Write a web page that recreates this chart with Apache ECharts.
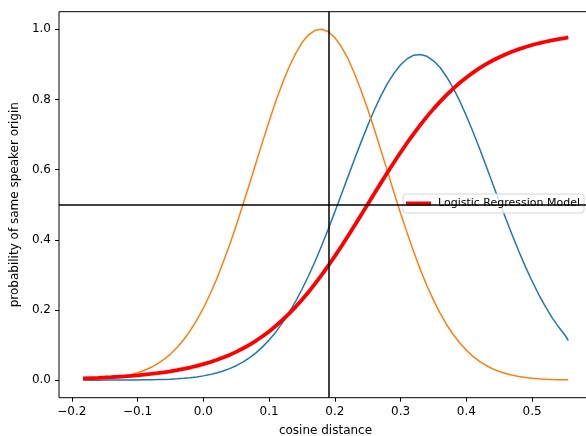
<!DOCTYPE html>
<html>
<head>
<meta charset="utf-8">
<script src="https://cdn.jsdelivr.net/npm/echarts@6/dist/echarts.min.js"></script>
<style>
  html, body { margin: 0; padding: 0; background: #fff; }
  #chart { width: 586px; height: 436px; }
</style>
</head>
<body>
<div id="chart"></div>
<script>
// cosine distance samples
var xs = [-0.183, -0.17, -0.16, -0.15, -0.14, -0.13, -0.12, -0.11, -0.10, -0.09,
          -0.08, -0.07, -0.06, -0.05, -0.04, -0.03, -0.02, -0.01, 0.00, 0.01,
          0.02, 0.03, 0.04, 0.05, 0.06, 0.07, 0.08, 0.09, 0.10, 0.11,
          0.12, 0.13, 0.14, 0.15, 0.16, 0.17, 0.18, 0.19, 0.20, 0.21,
          0.22, 0.23, 0.24, 0.25, 0.26, 0.27, 0.28, 0.29, 0.30, 0.31,
          0.32, 0.33, 0.34, 0.35, 0.36, 0.37, 0.38, 0.39, 0.40, 0.41,
          0.42, 0.43, 0.44, 0.45, 0.46, 0.47, 0.48, 0.49, 0.50, 0.51,
          0.52, 0.53, 0.54, 0.55, 0.555];
// blue curve
var blueVals = [0.00003, 0.00004, 0.00006, 0.00009, 0.00014, 0.00020, 0.00029, 0.00041, 0.00058, 0.00082,
                0.00114, 0.00157, 0.00216, 0.00293, 0.00396, 0.00531, 0.00705, 0.0093, 0.0122, 0.0158,
                0.0203, 0.0259, 0.0328, 0.0412, 0.0514, 0.0635, 0.0779, 0.0948, 0.1143, 0.1368,
                0.1624, 0.191, 0.2235, 0.259, 0.2976, 0.339, 0.3839, 0.431, 0.4796, 0.530,
                0.580, 0.630, 0.679, 0.726, 0.770, 0.810, 0.846, 0.875, 0.899, 0.916,
                0.926, 0.928, 0.923, 0.910, 0.891, 0.864, 0.832, 0.795, 0.753, 0.708,
                0.660, 0.610, 0.560, 0.509, 0.460, 0.412, 0.366, 0.322, 0.282, 0.244,
                0.210, 0.179, 0.152, 0.128, 0.113];
// orange curve
var orangeVals = [0.0015, 0.0023, 0.0033, 0.0046, 0.0064, 0.0087, 0.0118, 0.0158, 0.0210, 0.0276,
                  0.0359, 0.0462, 0.0589, 0.0743, 0.0929, 0.115, 0.141, 0.171, 0.205, 0.244,
                  0.287, 0.335, 0.386, 0.441, 0.499, 0.558, 0.619, 0.679, 0.738, 0.794,
                  0.845, 0.891, 0.930, 0.962, 0.984, 0.997, 1.000, 0.993, 0.976, 0.950,
                  0.916, 0.873, 0.825, 0.772, 0.715, 0.655, 0.595, 0.534, 0.475, 0.419,
                  0.365, 0.315, 0.269, 0.228, 0.191, 0.158, 0.130, 0.106, 0.0851, 0.0678,
                  0.0535, 0.0418, 0.0323, 0.0247, 0.0188, 0.0141, 0.0105, 0.0077, 0.0056, 0.0040,
                  0.0029, 0.0020, 0.0014, 0.0010, 0.0008];
// Logistic Regression Model
var logisticVals = [0.0051, 0.0060, 0.0067, 0.0076, 0.0086, 0.0097, 0.0109, 0.0123, 0.0139, 0.0156,
                    0.0176, 0.0199, 0.0224, 0.0252, 0.0284, 0.0320, 0.0360, 0.0405, 0.0455, 0.0511,
                    0.0573, 0.0643, 0.0720, 0.0806, 0.0902, 0.1007, 0.1122, 0.1250, 0.1389, 0.1542,
                    0.1708, 0.1888, 0.2082, 0.2290, 0.2513, 0.2749, 0.2999, 0.3261, 0.3535, 0.3818,
                    0.4110, 0.4408, 0.4710, 0.5015, 0.5320, 0.5622, 0.5920, 0.6211, 0.6493, 0.6766,
                    0.7027, 0.7275, 0.7510, 0.7731, 0.7938, 0.8131, 0.8309, 0.8474, 0.8625, 0.8763,
                    0.8890, 0.9004, 0.9109, 0.9203, 0.9288, 0.9364, 0.9433, 0.9495, 0.9550, 0.9600,
                    0.9644, 0.9683, 0.9719, 0.9750, 0.9765];
var xTicks = [-0.2, -0.1, 0.0, 0.1, 0.2, 0.3, 0.4, 0.5];
var yTicks = [0.0, 0.2, 0.4, 0.6, 0.8, 1.0];
var vLineX = [0.186];
var hLineY = [0.5];

function pairs(vals) {
    return xs.map(function (x, i) { return [x, vals[i]]; });
}
function fmt(v) {
    return (v < 0 ? '\u2212' : '') + Math.abs(v).toFixed(1);
}

var chart = echarts.init(document.getElementById('chart'));
var font = 'DejaVu Sans';
var option = {
    animation: false,
    grid: {
        left: 59, top: 11.7, width: 533, height: 386,
        outerBoundsMode: 'none', containLabel: false,
        show: true, borderColor: '#000', borderWidth: 1, backgroundColor: 'transparent'
    },
    legend: {
        data: ['Logistic Regression Model'],
        left: 403, top: 194,
        padding: [4, 4, 4, 3],
        itemWidth: 25, itemHeight: 4, icon: 'rect',
        backgroundColor: 'rgba(255,255,255,0.8)',
        borderColor: '#d6d6d6', borderWidth: 1, borderRadius: 3,
        textStyle: { fontFamily: font, fontSize: 11, color: '#000', padding: [0, 0, 0, 2] }
    },
    xAxis: {
        type: 'value', min: -0.2195, max: 0.591,
        name: 'cosine distance', nameLocation: 'middle', nameGap: 27,
        nameTextStyle: { fontFamily: font, fontSize: 12, color: '#000' },
        splitLine: { show: false },
        axisLine: { show: false, onZero: false },
        axisTick: { show: true, inside: false, length: 4, customValues: xTicks, lineStyle: { color: '#000' } },
        axisLabel: { customValues: xTicks, margin: 8, fontFamily: font, fontSize: 12, color: '#000', formatter: fmt }
    },
    yAxis: {
        type: 'value', min: -0.05, max: 1.05,
        name: 'probability of same speaker origin', nameLocation: 'middle', nameGap: 31, nameRotate: 90,
        nameTextStyle: { fontFamily: font, fontSize: 12, color: '#000' },
        splitLine: { show: false },
        axisLine: { show: false, onZero: false },
        axisTick: { show: true, inside: false, length: 4, customValues: yTicks, lineStyle: { color: '#000' } },
        axisLabel: { customValues: yTicks, margin: 8, fontFamily: font, fontSize: 12, color: '#000', formatter: fmt }
    },
    series: [
        {
            name: 'blue', type: 'line', data: pairs(blueVals),
            showSymbol: false, lineStyle: { color: '#1f77b4', width: 1.5 }, itemStyle: { color: '#1f77b4' }
        },
        {
            name: 'orange', type: 'line', data: pairs(orangeVals),
            showSymbol: false, lineStyle: { color: '#ff7f0e', width: 1.5 }, itemStyle: { color: '#ff7f0e' }
        },
        {
            name: 'Logistic Regression Model', type: 'line', data: pairs(logisticVals),
            showSymbol: false, lineStyle: { color: '#ff0000', width: 3.8 }, itemStyle: { color: '#ff0000' },
            markLine: {
                silent: true, symbol: 'none', label: { show: false },
                lineStyle: { color: '#000', width: 1.5, type: 'solid' },
                data: [{ xAxis: vLineX[0] }, { yAxis: hLineY[0] }]
            }
        }
    ]
};
chart.setOption(option);
</script>
</body>
</html>
